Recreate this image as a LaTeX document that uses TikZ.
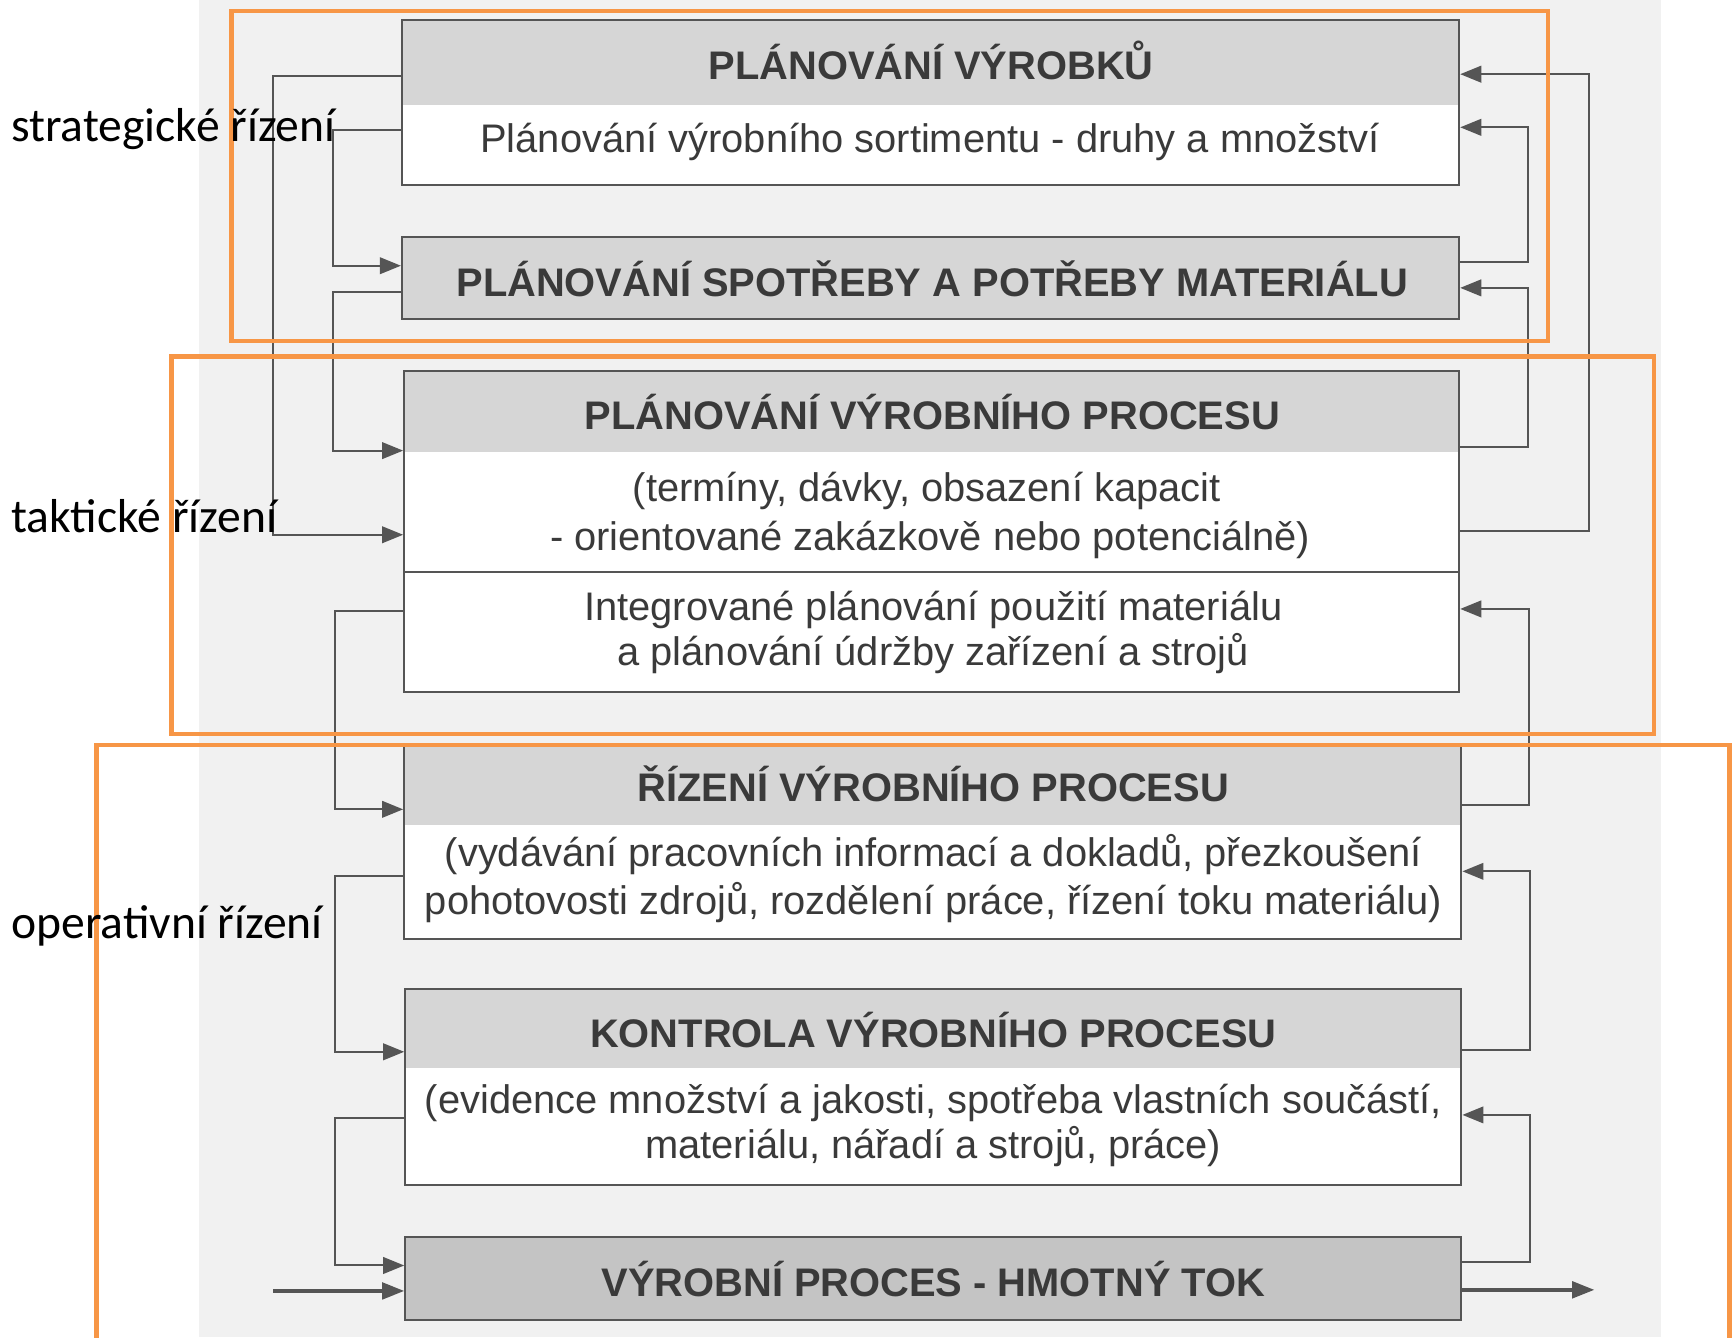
\documentclass[tikz,border=0pt]{standalone}
\usepackage{fontspec}
\setmainfont{Liberation Sans}
\newfontfamily\calib{Carlito}
\usetikzlibrary{arrows.meta}
\definecolor{txt}{HTML}{3A3A3A}
\definecolor{linecol}{HTML}{555555}
\definecolor{hdrcol}{HTML}{D6D6D6}
\definecolor{hdrdark}{HTML}{C4C4C4}
\definecolor{bgcol}{HTML}{F1F1F1}
\definecolor{orng}{HTML}{F79646}
\tikzset{
  box/.style={draw=linecol, line width=1.8pt, fill=white, inner sep=0pt, rectangle},
  hdr/.style={path picture={\fill[hdrcol] (path picture bounding box.north west) rectangle ([yshift=-#1]path picture bounding box.north east);}},
  htext/.style={font=\fontsize{36}{40}\selectfont\bfseries, text=txt, anchor=base, inner sep=0pt},
  btext/.style={font=\fontsize{36}{40}\selectfont, text=txt, anchor=base, inner sep=0pt},
  conn/.style={draw=linecol, line width=1.8pt, -{Triangle[length=19pt,width=15pt]}},
  connthick/.style={draw=linecol, line width=3pt, -{Triangle[length=20pt,width=15pt]}},
  zone/.style={draw=orng, line width=4pt},
  lbl/.style={font=\calib\fontsize{43}{47}\selectfont, text=black, anchor=base west, inner sep=0pt}
}
\begin{document}
\begin{tikzpicture}[x=1pt,y=-1pt]
\useasboundingbox (0,0) rectangle (1568,1208);
\clip (0,0) rectangle (1568,1208);
\fill[bgcol] (180,0) rectangle (1500,1208);

% boxes
\node[box, hdr=77pt, minimum width=955pt, minimum height=149pt] (b1) at (840.5,92.5) {};
\node[box, fill=hdrcol, minimum width=955pt, minimum height=74pt] (b2) at (840.5,251) {};
\node[box, hdr=73pt, minimum width=953pt, minimum height=290pt] (b3) at (841.5,480) {};
\node[box, hdr=73pt, minimum width=955pt, minimum height=176pt] (b4) at (842.5,760) {};
\node[box, hdr=72pt, minimum width=954pt, minimum height=177pt] (b5) at (843,981.5) {};
\node[box, fill=hdrdark, minimum width=954pt, minimum height=75pt] (b6) at (843,1154.5) {};
\draw[draw=linecol, line width=1.8pt] (b3.west |- 0,517) -- (b3.east |- 0,517);

% texts
\node[htext] (t1) at (841,72) {PLÁNOVÁNÍ VÝROBKŮ};
\node[btext] (t1b) at (840,138) {Plánování výrobního sortimentu - druhy a množství};
\node[htext] (t2) at (842,268) {PLÁNOVÁNÍ SPOTŘEBY A POTŘEBY MATERIÁLU};
\node[htext] (t3) at (842,388) {PLÁNOVÁNÍ VÝROBNÍHO PROCESU};
\node[btext] (t3a) at (837,453) {(termíny, dávky, obsazení kapacit};
\node[btext] (t3b) at (840,497) {- orientované zakázkově nebo potenciálně)};
\node[btext] (t3c) at (843,560) {Integrované plánování použití materiálu};
\node[btext] (t3d) at (843,601) {a plánování údržby zařízení a strojů};
\node[htext] (t4) at (843,724) {ŘÍZENÍ VÝROBNÍHO PROCESU};
\node[btext] (t4a) at (843,783) {(vydávání pracovních informací a dokladů, přezkoušení};
\node[btext] (t4b) at (843,826) {pohotovosti zdrojů, rozdělení práce, řízení toku materiálu)};
\node[htext] (t5) at (843,946) {KONTROLA VÝROBNÍHO PROCESU};
\node[btext] (t5a) at (843,1006) {(evidence množství a jakosti, spotřeba vlastních součástí,};
\node[btext] (t5b) at (843,1046) {materiálu, nářadí a strojů, práce)};
\node[htext] (t6) at (843,1171) {VÝROBNÍ PROCES - HMOTNÝ TOK};

% left connectors
\draw[conn] (b1.west |- 0,69) -| (247,483) -- (b3.west |- 0,483);
\draw[conn] (b1.west |- 0,117) -| (301,240) -- (b2.west |- 0,240);
\draw[conn] (b2.west |- 0,264) -| (301,407) -- (b3.west |- 0,407);
\draw[conn] (b3.west |- 0,552) -| (303,731) -- (b4.west |- 0,731);
\draw[conn] (b4.west |- 0,791) -| (303,950) -- (b5.west |- 0,950);
\draw[conn] (b5.west |- 0,1010) -| (303,1143) -- (b6.west |- 0,1143);
\coordinate (in) at (247,1166);
\draw[connthick] (in) -- (b6.west |- in);

% right connectors
\draw[conn] (b2.east |- 0,237) -| (1380,115) -- (b1.east |- 0,115);
\draw[conn] (b3.east |- 0,404) -| (1380,260) -- (b2.east |- 0,260);
\draw[conn] (b3.east |- 0,480) -| (1435,67) -- (b1.east |- 0,67);
\draw[conn] (b4.east |- 0,727) -| (1381,550) -- (b3.east |- 0,550);
\draw[conn] (b5.east |- 0,948) -| (1382,787) -- (b4.east |- 0,787);
\draw[conn] (b6.east |- 0,1140) -| (1382,1007) -- (b5.east |- 0,1007);
\coordinate (out) at (1440,1165);
\draw[connthick] (b6.east |- out) -- (out);

% zones
\draw[zone] (209,10) rectangle (1398,308);
\draw[zone] (155,322) rectangle (1494,663);
\draw[zone] (87,1240) -- (87,673) -- (1562,673) -- (1562,1240);

% labels
\node[lbl] (l1) at (10,128) {strategické řízení};
\node[lbl] (l2) at (10,481) {taktické řízení};
\node[lbl] (l3) at (10,848) {operativní řízení};
\end{tikzpicture}
\end{document}
